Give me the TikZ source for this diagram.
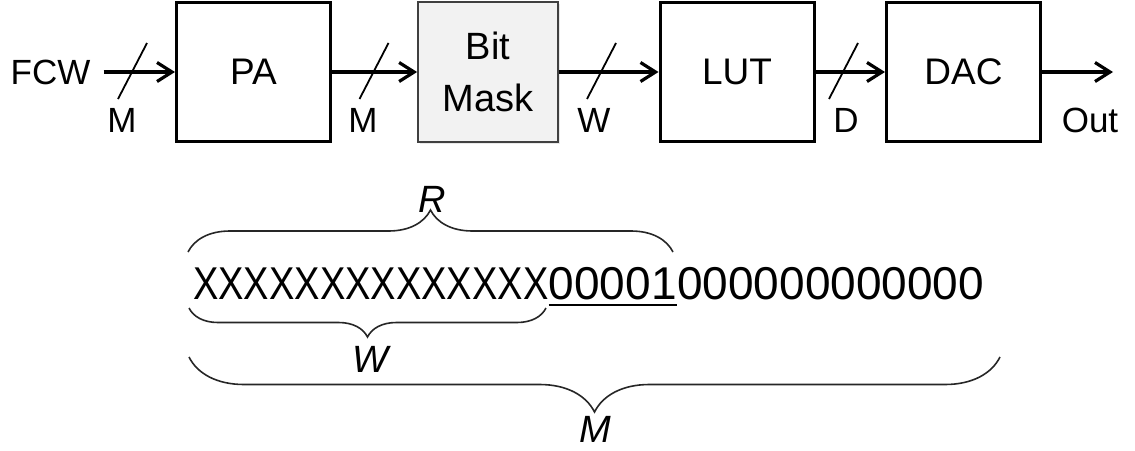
\documentclass[tikz,border=0pt]{standalone}
\usepackage{fontspec}
\setmainfont{Liberation Sans}
\usetikzlibrary{arrows.meta,decorations.pathreplacing,shadows,calc}
\begin{document}
\begin{tikzpicture}[x=1pt,y=-1pt,
  blk/.style={draw,line width=3pt,minimum width=154pt,minimum height=139pt,inner sep=0pt,font=\fontsize{37}{40}\selectfont},
  maskblk/.style={draw=black!75,fill=black!5,line width=1.8pt,minimum width=140pt,minimum height=140pt,inner sep=0pt,align=center,
     font=\fontsize{38}{52}\selectfont,drop shadow={opacity=0.18,shadow xshift=1.5pt,shadow yshift=-2pt}},
  arr/.style={line width=3.2pt,-{Straight Barb[length=15pt,width=19pt]}},
  slashln/.style={line width=1.8pt},
  lbl/.style={inner sep=0pt,font=\fontsize{35}{38}\selectfont},
  bits/.style={inner sep=0pt,font=\fontsize{46}{50}\selectfont},
  brc/.style={decorate,line width=1.6pt,draw=black!85},
  brlbl/.style={inner sep=0pt,font=\fontsize{38}{40}\selectfont\itshape}]
\useasboundingbox (0,0) rectangle (1135,450);

% blocks
\node[blk] (pa) at (253.5,72) {PA};
\node[maskblk] (mask) at (488,72) {Bit\\Mask};
\node[blk] (lut) at (737,72) {LUT};
\node[blk] (dac) at (963.5,72) {DAC};

% input / output
\node[lbl] (fcw) at (50.5,72) {FCW};
\coordinate (out) at (1113,72);

% connectors
\draw[arr,shorten <=13pt] (fcw.east) -- (pa.west);
\draw[arr] (pa.east) -- (mask.west);
\draw[arr] (mask.east) -- (lut.west);
\draw[arr] (lut.east) -- (dac.west);
\draw[arr] (dac.east) -- (out);

% bus width slashes
\foreach \cx/\nm in {132.5/s1,374/s2,601.5/s3,843.5/s4}{
  \coordinate (\nm) at (\cx,71);
  \draw[slashln] ($(\nm)+(-14.5,28)$) -- ($(\nm)+(14.5,-28)$);
}
\node[lbl] (m1) at (122,120) {M};
\node[lbl] (m2) at (363,120) {M};
\node[lbl] (w1) at (594,120) {W};
\node[lbl] (d1) at (846,120) {D};
\node[lbl] (o1) at (1090,120) {Out};

% bit string
\node[bits,anchor=base west] (xs) at (193,299) {\scalebox{0.827}[1]{XXXXXXXXXXXXXX}};
\node[bits,anchor=base west] (ul) at (xs.base east) {00001};
\node[bits,anchor=base west] (rest) at (ul.base east) {000000000000};
\draw[line width=2pt] ($(ul.base west)+(0,6)$) -- ($(ul.base east)+(0,6)$);

% braces
\draw[brc,decoration={brace,amplitude=42pt}] (188,252) -- (673,252);
\node[brlbl] (rl) at (432,199) {R};
\draw[brc,decoration={brace,amplitude=29pt}] (546,308) -- (189,308);
\node[brlbl] (wl) at (370,359) {W};
\draw[brc,decoration={brace,amplitude=55pt}] (1000,357) -- (189,357);
\node[brlbl] (ml) at (595,429) {M};
\end{tikzpicture}
\end{document}
